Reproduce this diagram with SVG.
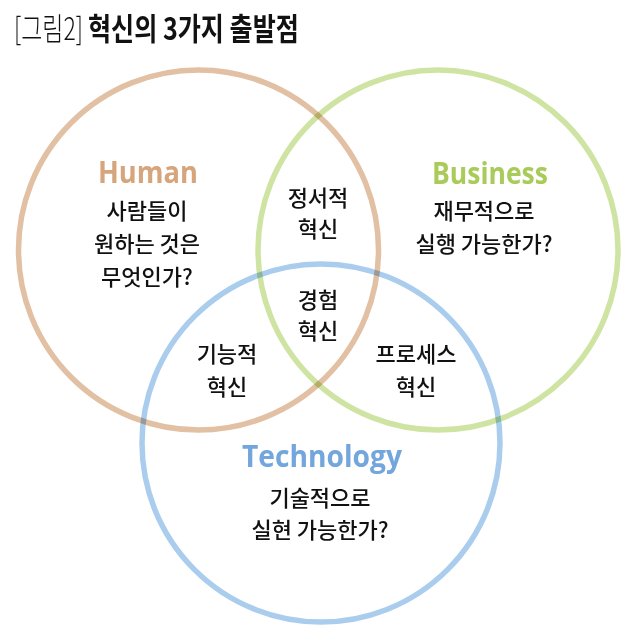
<svg xmlns="http://www.w3.org/2000/svg" width="640" height="644" viewBox="0 0 640 644">
<style>
.ring{fill:none;stroke-width:5.5;mix-blend-mode:multiply}
.ko{font-family:"Noto Sans CJK KR","Noto Sans",sans-serif;font-size:22px;font-weight:500;fill:#111;text-anchor:middle}
.en{font-family:"Open Sans","DejaVu Sans",sans-serif;font-weight:bold;font-size:30px;text-anchor:middle}
.title{font-family:"Noto Sans CJK KR","Noto Sans",sans-serif;font-size:31px;fill:#111}
</style>
<rect width="640" height="644" fill="#fff"/>
<g id="title">
<text class="title" transform="translate(14,40) scale(0.74,1)" font-weight="300">[그림2]</text>
<text class="title" transform="translate(88,40) scale(0.81,1)" font-weight="bold">혁신의 3가지 출발점</text>
</g>
<g id="connectors"></g>
<g id="human">
<circle class="ring" cx="198.5" cy="250" r="180" stroke="#e2c0a3"/>
<text class="en" x="148" y="183" fill="#d6a57c" textLength="100" lengthAdjust="spacingAndGlyphs">Human</text>
<text class="ko" x="147" y="219">사람들이</text>
<text class="ko" x="147" y="252">원하는 것은</text>
<text class="ko" x="147" y="285">무엇인가?</text>
</g>
<g id="business">
<circle class="ring" cx="438" cy="250" r="180" stroke="#cfe4a3"/>
<text class="en" x="490" y="184" fill="#a8cb5a" textLength="116" lengthAdjust="spacingAndGlyphs">Business</text>
<text class="ko" x="484" y="219">재무적으로</text>
<text class="ko" x="484" y="252">실행 가능한가?</text>
</g>
<g id="technology">
<circle class="ring" cx="321" cy="443" r="179" stroke="#aacdee"/>
<text class="en" x="322" y="467" fill="#72a6dc" textLength="160" lengthAdjust="spacingAndGlyphs">Technology</text>
<text class="ko" x="320" y="506">기술적으로</text>
<text class="ko" x="320" y="538">실현 가능한가?</text>
</g>
<g id="emotional">
<text class="ko" x="318" y="206">정서적</text>
<text class="ko" x="318" y="237">혁신</text>
</g>
<g id="experience">
<text class="ko" x="318" y="308">경험</text>
<text class="ko" x="318" y="339">혁신</text>
</g>
<g id="functional">
<text class="ko" x="227" y="362">기능적</text>
<text class="ko" x="227" y="395">혁신</text>
</g>
<g id="process">
<text class="ko" x="416" y="362">프로세스</text>
<text class="ko" x="416" y="395">혁신</text>
</g>
</svg>
